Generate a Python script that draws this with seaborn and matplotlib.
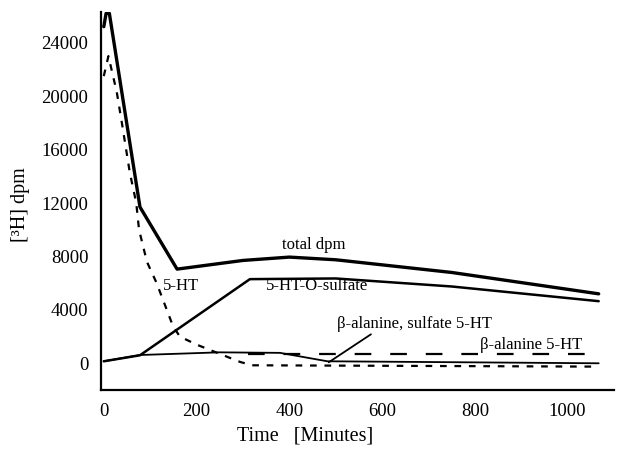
import matplotlib
matplotlib.use("Agg")
import matplotlib.pyplot as plt
import seaborn as sns
import numpy as np

# ---- data ----
t_total = [0, 5, 12, 78, 158, 300, 400, 500, 750, 1067]
v_total = [25200, 26200, 26200, 11700, 7050, 7700, 7950, 7750, 6800, 5200]

t_sulf = [0, 78, 315, 500, 750, 1067]
v_sulf = [150, 600, 6300, 6350, 5750, 4650]

t_bas = [0, 78, 250, 380, 482, 1067]
v_bas = [150, 620, 820, 780, 150, 0]

t_5ht = [0, 10, 28, 39, 56, 70, 76, 93, 114, 149, 164, 200, 236, 294, 320, 1067]
v_5ht = [21500, 23000, 20300, 18000, 14300, 12000, 10000, 7600, 6000, 2800, 2000, 1400, 900, 100, -150, -250]

t_ba = [310, 1067]
v_ba = [700, 700]

xticks = [0, 200, 400, 600, 800, 1000]
yticks = [0, 4000, 8000, 12000, 16000, 20000, 24000]

sns.set_style("white")
plt.rcParams['font.family'] = ['Liberation Serif', 'DejaVu Serif']

fig = plt.figure(figsize=(6.21, 4.5), dpi=100)
ax = fig.add_axes([101/621, 1-390/450, (614-101)/621, (390-12)/450])

sns.lineplot(x=t_total, y=v_total, ax=ax, color='black', lw=2.4, sort=False)
sns.lineplot(x=t_sulf, y=v_sulf, ax=ax, color='black', lw=1.8, sort=False)
sns.lineplot(x=t_bas, y=v_bas, ax=ax, color='black', lw=1.3, sort=False)
sns.lineplot(x=t_5ht, y=v_5ht, ax=ax, color='black', lw=1.6, sort=False,
             linestyle=(0, (3, 3.5)))
sns.lineplot(x=t_ba, y=v_ba, ax=ax, color='black', lw=1.6, sort=False,
             linestyle=(0, (7.5, 8.5)))

ax.set_xlim(-6, 1100)
ax.set_ylim(-2000, 26300)
ax.set_xticks(xticks)
ax.set_yticks(yticks)
ax.set_xticks(np.arange(0, 1101, 100), minor=True)
ax.set_yticks(np.arange(-2000, 26001, 2000), minor=True)
ax.tick_params(axis='both', which='both', direction='in', color='black',
               width=1.3, labelsize=13.5, labelcolor='black')
ax.tick_params(axis='both', which='major', length=5)
ax.tick_params(axis='both', which='minor', length=4)
ax.tick_params(axis='y', pad=9)
ax.tick_params(axis='x', pad=9)

for s in ['top', 'right']:
    ax.spines[s].set_visible(False)
for s in ['left', 'bottom']:
    ax.spines[s].set_color('black')
    ax.spines[s].set_linewidth(1.6)

ax.set_xlabel("Time   [Minutes]", fontsize=14.5, color='black')
ax.set_ylabel("[³H] dpm", fontsize=14.5, color='black')
ax.xaxis.set_label_coords((305-101)/513, -(427-390)/378)
ax.yaxis.set_label_coords((30-101)/513, (390-205)/378)

kw = dict(fontsize=12, color='black', ha='center', va='center')
ax.text(452, 8840, "total dpm", **kw)
ax.text(459, 5770, "5-HT-O-sulfate", **kw)
ax.text(167, 5770, "5-HT", **kw)
ax.text(669, 2920, "β-alanine, sulfate 5-HT", **kw)
ax.text(922, 1350, "β-alanine 5-HT", **kw)
ax.plot([485, 576], [75, 2170], color='black', lw=1.3)

fig.savefig("out.png", dpi=100)
